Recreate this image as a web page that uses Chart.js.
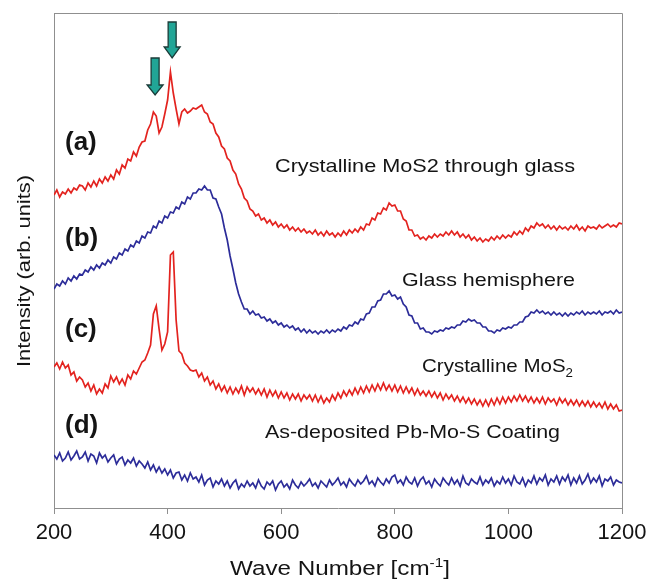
<!DOCTYPE html>
<html>
<head>
<meta charset="utf-8">
<script src="https://cdn.jsdelivr.net/npm/chart.js@4/dist/chart.umd.min.js"></script>
<style>
  html, body { margin: 0; padding: 0; background: #fff; }
  #wrap { width: 648px; height: 579px; position: relative; }
</style>
</head>
<body>
<div id="wrap"><canvas id="ramanChart" width="648" height="579"></canvas></div>
<script>
// ------------------ DATA ------------------
// sampling grid, cm-1 (200 .. 1200 every 5)
const waveNumbers = Array.from({ length: 201 }, (_, i) => 200 + 5 * i);
const xTicks = [200, 400, 600, 800, 1000, 1200];

// (a) crystalline MoS2 through glass
const seriesA = [
  313,318,311,316,314,319,315,320,318,323,
  322,318,325,321,327,322,329,325,331,327,
  333,329,338,334,343,340,349,347,356,352,
  361,366,367,378,384,396,392,375,381,394,
  408,436,415,399,384,396,399,395,397,400,
  399,401,403,396,394,386,384,375,371,362,
  359,350,347,338,334,324,319,310,307,299,
  297,292,294,288,290,285,288,283,286,281,
  284,280,283,278,281,277,280,276,279,275,
  277,274,278,273,276,272,277,273,275,271,
  275,272,277,273,278,275,279,276,281,278,
  284,283,290,288,295,294,300,298,305,302,
  303,297,297,289,287,278,278,272,273,269,
  271,268,272,270,274,271,274,272,276,273,
  277,273,276,271,274,270,273,268,271,267,
  270,266,269,267,271,268,272,269,273,270,
  273,271,276,273,277,274,280,277,282,280,
  285,282,284,280,283,279,282,278,282,279,
  281,278,282,279,283,278,281,277,282,280,
  281,279,283,280,282,284,281,283,281,285,
  284
];

// (b) glass hemisphere
const seriesB = [
  219,224,222,227,224,230,227,232,229,234,
  233,238,236,241,238,243,240,245,243,248,
  245,251,249,255,253,259,257,263,261,267,
  265,272,270,276,275,282,280,287,285,292,
  290,296,295,301,299,306,304,311,309,315,
  315,319,318,322,318,318,310,309,301,294,
  280,268,252,239,225,214,206,199,199,194,
  197,193,194,190,191,187,189,185,187,183,
  185,181,183,180,182,178,180,176,179,175,
  178,175,177,174,177,175,178,175,178,176,
  179,177,181,179,183,182,186,184,189,188,
  194,195,201,201,207,208,214,214,217,212,
  213,209,211,204,201,193,192,185,185,179,
  180,176,176,174,177,176,178,177,180,179,
  181,180,183,183,187,186,189,187,188,185,
  185,181,181,177,177,175,178,177,180,179,
  181,180,183,183,186,186,191,192,196,195,
  198,195,197,194,196,193,196,193,195,192,
  195,192,195,193,196,194,197,193,196,194,
  196,194,197,193,196,195,197,194,198,195,
  196
];

// (c) crystalline MoS2
const seriesC = [
  141,145,139,146,140,143,133,136,127,131,
  128,121,125,117,123,114,119,115,124,120,
  132,126,131,124,129,123,133,129,137,134,
  140,146,148,155,163,194,202,179,158,164,
  176,253,256,188,157,154,145,142,138,137,
  138,131,135,127,131,123,127,119,124,117,
  122,115,121,114,120,115,122,113,121,116,
  120,114,119,113,119,111,118,112,117,110,
  116,110,115,108,114,109,114,107,113,109,
  113,107,113,106,112,105,110,106,113,108,
  115,110,117,112,118,113,120,114,121,115,
  122,116,123,117,124,118,125,118,123,117,
  123,116,122,115,121,115,120,113,119,113,
  117,112,117,111,116,110,115,108,114,109,
  113,107,112,106,111,105,110,104,109,103,
  108,102,108,102,109,103,110,104,111,105,
  111,106,112,107,113,107,112,106,111,105,
  110,105,111,104,110,106,109,103,110,105,
  109,103,108,103,108,102,107,102,107,101,
  106,101,105,100,106,99,104,99,103,97,
  98
];

// (d) as-deposited Pb-Mo-S coating
const seriesD = [
  53,49,55,47,50,56,48,52,57,49,
  51,56,47,54,52,45,55,50,53,46,
  50,53,44,49,51,43,48,45,50,42,
  47,44,40,46,38,43,36,41,35,39,
  33,38,30,35,36,28,33,27,35,29,
  31,26,33,23,28,30,21,27,24,29,
  22,27,20,25,28,19,24,21,27,22,
  25,20,28,22,19,26,23,27,18,24,
  27,21,24,19,28,23,20,26,22,25,
  29,22,25,20,27,24,21,28,23,26,
  30,23,26,21,29,25,22,28,24,27,
  32,24,27,22,30,26,23,29,25,31,
  33,25,28,23,31,26,24,30,22,28,
  31,24,27,21,29,25,22,30,26,23,
  30,24,28,22,32,25,23,29,26,24,
  31,23,28,25,30,22,27,24,31,25,
  29,23,32,26,24,30,22,28,25,32,
  24,30,27,33,23,29,26,32,24,31,
  27,33,23,30,25,32,24,28,34,25,
  30,26,32,22,29,27,31,23,28,26,
  25
];

const RED = "#e3231f";
const BLUE = "#2c2c99";
const AXIS = "#8f8f8f";
const FONT = "'Liberation Sans', Arial, sans-serif";

function toPoints(ys) {
  return ys.map((y, i) => ({ x: waveNumbers[i], y: y }));
}

// ------------------ TEXT HELPERS ------------------
// draw text segments starting at left, squeezed/stretched to a target width
function fitText(ctx, segs, left, baseline, width) {
  let natural = 0;
  segs.forEach(s => {
    ctx.font = s.font;
    natural += ctx.measureText(s.text).width;
  });
  const sx = width / natural;
  ctx.save();
  ctx.translate(left, baseline);
  ctx.scale(sx, 1);
  let x = 0;
  segs.forEach(s => {
    ctx.font = s.font;
    ctx.fillText(s.text, x, s.dy || 0);
    x += ctx.measureText(s.text).width;
  });
  ctx.restore();
}

function drawArrow(ctx, cx, top, tip, shaftW, headW, headStart) {
  ctx.beginPath();
  ctx.moveTo(cx - shaftW / 2, top);
  ctx.lineTo(cx + shaftW / 2, top);
  ctx.lineTo(cx + shaftW / 2, headStart);
  ctx.lineTo(cx + headW / 2, headStart);
  ctx.lineTo(cx, tip);
  ctx.lineTo(cx - headW / 2, headStart);
  ctx.lineTo(cx - shaftW / 2, headStart);
  ctx.closePath();
  ctx.fillStyle = "#21a596";
  ctx.fill();
  ctx.lineWidth = 1.3;
  ctx.strokeStyle = "#1b3b38";
  ctx.stroke();
}

// ------------------ ANNOTATIONS ------------------
const annotations = {
  id: "annotations",
  afterDraw(chart) {
    const ctx = chart.ctx;
    const area = chart.chartArea;
    const xs = chart.scales.x;
    const ys = chart.scales.y;

    // plot frame (top + right)
    ctx.save();
    ctx.strokeStyle = AXIS;
    ctx.lineWidth = 1;
    ctx.beginPath();
    ctx.moveTo(area.left, area.top + 0.5);
    ctx.lineTo(area.right + 0.5, area.top + 0.5);
    ctx.lineTo(area.right + 0.5, area.bottom);
    ctx.stroke();
    ctx.restore();

    // arrows above the MoS2 peaks
    drawArrow(ctx, xs.getPixelForValue(408), ys.getPixelForValue(486),
      ys.getPixelForValue(450), 8, 16, ys.getPixelForValue(461));
    drawArrow(ctx, xs.getPixelForValue(378), ys.getPixelForValue(450),
      ys.getPixelForValue(413), 8, 16, ys.getPixelForValue(423));

    ctx.save();
    ctx.fillStyle = "#141414";
    ctx.textAlign = "left";
    ctx.textBaseline = "alphabetic";

    // curve letters
    ctx.font = "bold 26px " + FONT;
    ctx.fillText("(a)", 65, 150);
    ctx.fillText("(b)", 65, 246);
    ctx.fillText("(c)", 65, 337);
    ctx.fillText("(d)", 65, 433);

    const f18 = "18.5px " + FONT;
    fitText(ctx, [{ text: "Crystalline MoS2 through glass", font: f18 }], 275, 172, 300);
    fitText(ctx, [{ text: "Glass hemisphere", font: f18 }], 402, 286, 173);
    fitText(ctx, [
      { text: "Crystalline MoS", font: f18 },
      { text: "2", font: "12px " + FONT, dy: 5 }
    ], 422, 372, 151);
    fitText(ctx, [{ text: "As-deposited Pb-Mo-S Coating", font: f18 }], 265, 438, 295);

    // x axis title
    fitText(ctx, [
      { text: "Wave Number [cm", font: "20.5px " + FONT },
      { text: "-1", font: "13px " + FONT, dy: -8 },
      { text: "]", font: "20.5px " + FONT }
    ], 230, 575, 220);

    // y axis title
    ctx.translate(30, 367);
    ctx.rotate(-Math.PI / 2);
    fitText(ctx, [{ text: "Intensity (arb. units)", font: "18.5px " + FONT }], 0, 0, 192);
    ctx.restore();
  }
};

// ------------------ CHART ------------------
const ctxC = document.getElementById("ramanChart").getContext("2d");

function makeSet(label, ys, color) {
  return {
    label: label,
    data: toPoints(ys),
    borderColor: color,
    borderWidth: 1.7,
    pointRadius: 0,
    fill: false,
    tension: 0
  };
}

new Chart(ctxC, {
  type: "line",
  data: {
    datasets: [
      makeSet("(a)", seriesA, RED),
      makeSet("(b)", seriesB, BLUE),
      makeSet("(c)", seriesC, RED),
      makeSet("(d)", seriesD, BLUE)
    ]
  },
  options: {
    responsive: false,
    animation: false,
    layout: { padding: { left: 0, top: 13, right: 26, bottom: 0 } },
    plugins: {
      legend: { display: false },
      tooltip: { enabled: false }
    },
    scales: {
      x: {
        type: "linear",
        min: 200,
        max: 1200,
        afterBuildTicks: (scale) => { scale.ticks = xTicks.map(v => ({ value: v })); },
        afterFit: (scale) => {
          scale.height = 71;
          scale.paddingLeft = 0;
          scale.paddingRight = 0;
        },
        ticks: {
          color: "#141414",
          font: { family: FONT, size: 22 },
          padding: 6,
          maxRotation: 0,
          callback: (v) => String(v)
        },
        grid: {
          drawOnChartArea: false,
          drawTicks: true,
          tickLength: 6,
          color: AXIS
        },
        border: { color: AXIS, width: 1 }
      },
      y: {
        min: 0,
        max: 495,
        afterFit: (scale) => { scale.width = 54; },
        ticks: { display: false },
        grid: { display: false },
        border: { color: AXIS, width: 1 }
      }
    }
  },
  plugins: [annotations]
});
</script>
</body>
</html>
